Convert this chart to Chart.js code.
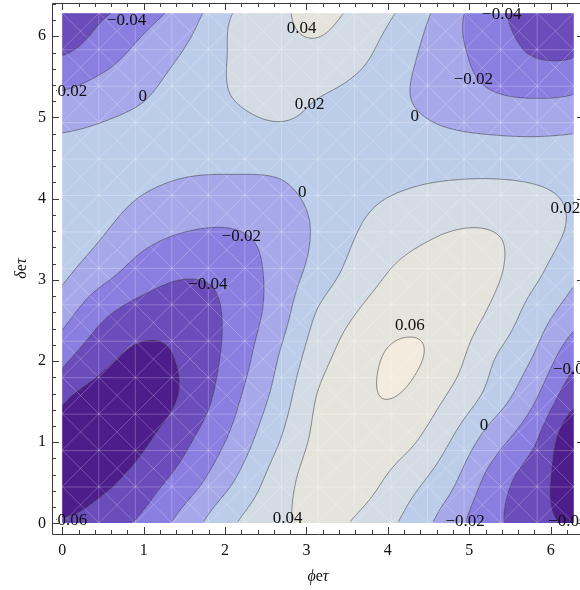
<!DOCTYPE html>
<html>
<head>
<meta charset="utf-8">
<title>Contour plot</title>
<script src="https://cdn.jsdelivr.net/npm/chart.js@4.4.1/dist/chart.umd.min.js"></script>
<style>
  html, body { margin: 0; padding: 0; background: #fff; overflow: hidden; }
  #wrap { position: relative; width: 600px; height: 590px; }
</style>
</head>
<body>
<div id="wrap"><canvas id="chart" width="600" height="590"></canvas></div>
<script>
"use strict";

/* ─── Data ─────────────────────────────────────────────────── */

/* Grid nodes along both axes (multiples of pi/6) */
const PHI_GRID = [0, 0.524, 1.047, 1.571, 2.094, 2.618, 3.142, 3.665, 4.189, 4.712, 5.236, 5.760, 6.283];
const DELTA_GRID = [0, 0.524, 1.047, 1.571, 2.094, 2.618, 3.142, 3.665, 4.189, 4.712, 5.236, 5.760, 6.283];

/* Values, one row per delta node (bottom to top) */
const ROW_0  = [-0.058, -0.049, -0.033, -0.008,  0.018,  0.034,  0.046,  0.036,  0.017, -0.008, -0.033, -0.050, -0.062];
const ROW_1  = [-0.068, -0.064, -0.048, -0.028, -0.001,  0.028,  0.049,  0.048,  0.030,  0.008, -0.025, -0.050, -0.068];
const ROW_2  = [-0.074, -0.077, -0.062, -0.042, -0.016,  0.016,  0.045,  0.055,  0.047,  0.024, -0.007, -0.034, -0.074];
const ROW_3  = [-0.055, -0.068, -0.070, -0.054, -0.026,  0.005,  0.041,  0.057,  0.059,  0.040,  0.015, -0.014, -0.053];
const ROW_4  = [-0.032, -0.054, -0.064, -0.054, -0.033, -0.003,  0.031,  0.052,  0.063,  0.052,  0.025,  0.002, -0.032];
const ROW_5  = [-0.011, -0.036, -0.048, -0.050, -0.035, -0.012,  0.021,  0.041,  0.052,  0.054,  0.039,  0.014, -0.010];
const ROW_6  = [ 0.006, -0.012, -0.029, -0.036, -0.032, -0.014,  0.007,  0.029,  0.043,  0.047,  0.045,  0.027,  0.006];
const ROW_7  = [ 0.015,  0.002, -0.011, -0.018, -0.019, -0.012,  0.003,  0.020,  0.031,  0.038,  0.039,  0.032,  0.017];
const ROW_8  = [ 0.014,  0.008,  0.002, -0.002, -0.003, -0.002,  0.007,  0.014,  0.018,  0.021,  0.022,  0.020,  0.015];
const ROW_9  = [ 0.003,  0.005,  0.007,  0.008,  0.010,  0.014,  0.015,  0.013,  0.009,  0.005,  0.003,  0.002,  0.003];
const ROW_10 = [-0.016, -0.008,  0.000,  0.010,  0.020,  0.026,  0.020,  0.013,  0.002, -0.009, -0.017, -0.020, -0.018];
const ROW_11 = [-0.040, -0.027, -0.011,  0.004,  0.022,  0.033,  0.035,  0.024,  0.006, -0.012, -0.027, -0.040, -0.041];
const ROW_12 = [-0.056, -0.042, -0.027, -0.008,  0.020,  0.035,  0.045,  0.034,  0.016, -0.009, -0.033, -0.047, -0.056];

/* Contour levels and the fill colour of each band between them */
const CONTOUR_LEVELS = [-0.06, -0.04, -0.02, 0, 0.02, 0.04, 0.06];
const BAND_COLORS = [
  "#4d1d8c", "#6b4cbb", "#8b7ee1", "#a7a8ea",
  "#bccde9", "#d3dbe4", "#e5e4dc", "#f3ebdd",
];

/* Frame tick labels */
const TICK_VALUES = [0, 1, 2, 3, 4, 5, 6];

/* Contour labels placed on the lines */
const LABEL_TEXT = [
  "\u22120.04", "\u22120.02", "0", "0.04", "0.02", "\u22120.04", "\u22120.02", "0",
  "0", "\u22120.02", "\u22120.04", "0.02", "0.06", "0", "\u22120.04",
  "\u22120.02", "\u22120.06", "0.04", "\u22120.06",
];
const LABEL_PHI = [
  0.79, 0.065, 0.99, 2.94, 3.04, 5.40, 5.05, 4.33,
  2.95, 2.20, 1.79, 6.18, 4.27, 5.18, 6.27,
  4.95, 6.21, 2.77, 0.065,
];
const LABEL_DELTA = [
  6.20, 5.32, 5.26, 6.09, 5.16, 6.27, 5.47, 5.01,
  4.07, 3.53, 2.94, 3.88, 2.44, 1.21, 1.89,
  0.02, 0.02, 0.06, 0.03,
];

const GRID = [ROW_0, ROW_1, ROW_2, ROW_3, ROW_4, ROW_5, ROW_6,
  ROW_7, ROW_8, ROW_9, ROW_10, ROW_11, ROW_12];

const SERIF = '"Liberation Serif", "Times New Roman", serif';

/* ─── Interpolation helpers ───────────────────────────────── */

/* Catmull-Rom blend of four neighbouring samples */
function cubic(p0, p1, p2, p3, t) {
  return p1 + 0.5 * t * (p2 - p0 + t * (2 * p0 - 5 * p1 + 4 * p2 - p3 + t * (3 * (p1 - p2) + p3 - p0)));
}

/* Wraps a grid index (the data repeat every 2 pi) */
function wrap(i) {
  const n = PHI_GRID.length - 1;
  if (i < 0) return i + n;
  if (i > n) return i - n;
  return i;
}

/* Finds the grid interval and fraction for a value */
function locate(axis, v) {
  let i = 0;
  while (i < axis.length - 2 && v > axis[i + 1]) i++;
  return [i, (v - axis[i]) / (axis[i + 1] - axis[i])];
}

function valueAt(phi, delta) {
  const [i, tx] = locate(PHI_GRID, phi);
  const [j, ty] = locate(DELTA_GRID, delta);
  const col = [];
  for (let k = -1; k <= 2; k++) {
    const r = GRID[wrap(j + k)];
    col.push(cubic(r[wrap(i - 1)], r[i], r[i + 1], r[wrap(i + 2)], tx));
  }
  return cubic(col[0], col[1], col[2], col[3], ty);
}

function hexToRgb(h) {
  return [parseInt(h.slice(1, 3), 16), parseInt(h.slice(3, 5), 16), parseInt(h.slice(5, 7), 16)];
}

/* Writes a title whose Greek letters are italic and the "e" upright */
function drawTitle(ctx, parts, cx, cy, angle) {
  ctx.save();
  ctx.translate(cx, cy);
  ctx.rotate(angle);
  ctx.fillStyle = "#111";
  ctx.textBaseline = "middle";
  ctx.textAlign = "left";
  let total = 0;
  parts.forEach(function (p) {
    ctx.font = p[1] + " 16px " + SERIF;
    total += ctx.measureText(p[0]).width;
  });
  let x = -total / 2;
  parts.forEach(function (p) {
    ctx.font = p[1] + " 16px " + SERIF;
    ctx.fillText(p[0], x, 0);
    x += ctx.measureText(p[0]).width;
  });
  ctx.restore();
}

/* ─── Plugins ─────────────────────────────────────────────── */

/* Filled bands and contour lines, painted through the chart scales */
const contourPlugin = {
  id: "contour",
  beforeDatasetsDraw(chart) {
    const ctx = chart.ctx;
    const xs = chart.scales.x;
    const ys = chart.scales.y;
    const x0 = Math.round(xs.getPixelForValue(PHI_GRID[0]));
    const x1 = Math.round(xs.getPixelForValue(PHI_GRID[PHI_GRID.length - 1]));
    const y0 = Math.round(ys.getPixelForValue(DELTA_GRID[DELTA_GRID.length - 1]));
    const y1 = Math.round(ys.getPixelForValue(DELTA_GRID[0]));
    const w = x1 - x0;
    const h = y1 - y0;
    const rgb = BAND_COLORS.map(hexToRgb);
    const vals = new Float32Array(w * h);
    const img = ctx.createImageData(w, h);

    for (let j = 0; j < h; j++) {
      const d = ys.getValueForPixel(y0 + j + 0.5);
      for (let i = 0; i < w; i++) {
        const p = xs.getValueForPixel(x0 + i + 0.5);
        const v = valueAt(p, d);
        vals[j * w + i] = v;
        let band = 0;
        while (band < CONTOUR_LEVELS.length && v >= CONTOUR_LEVELS[band]) band++;
        const c = rgb[band];
        const o = (j * w + i) * 4;
        img.data[o] = c[0];
        img.data[o + 1] = c[1];
        img.data[o + 2] = c[2];
        img.data[o + 3] = 255;
      }
    }
    ctx.putImageData(img, x0, y0);

    /* Faint white mesh of the sampling triangles */
    const step = PHI_GRID[PHI_GRID.length - 1] / 14;
    ctx.save();
    ctx.beginPath();
    ctx.rect(x0, y0, w, h);
    ctx.clip();
    ctx.beginPath();
    for (let k = 0; k <= 14; k++) {
      const px = xs.getPixelForValue(k * step);
      const py = ys.getPixelForValue(k * step);
      ctx.moveTo(px, y0); ctx.lineTo(px, y1);
      ctx.moveTo(x0, py); ctx.lineTo(x1, py);
    }
    for (let k = -14; k <= 14; k++) {
      ctx.moveTo(xs.getPixelForValue(k * step), y1);
      ctx.lineTo(xs.getPixelForValue((k + 14) * step), y0);
      ctx.moveTo(xs.getPixelForValue(k * step), y0);
      ctx.lineTo(xs.getPixelForValue((k + 14) * step), y1);
    }
    ctx.strokeStyle = "rgba(255,255,255,0.24)";
    ctx.lineWidth = 1;
    ctx.stroke();
    ctx.restore();

    /* Marching squares for the lines */
    const s = 2;
    ctx.save();
    ctx.beginPath();
    CONTOUR_LEVELS.forEach(function (lev) {
      for (let j = 0; j + s < h; j += s) {
        for (let i = 0; i + s < w; i += s) {
          const a = vals[j * w + i] - lev;
          const b = vals[j * w + i + s] - lev;
          const c = vals[(j + s) * w + i + s] - lev;
          const e = vals[(j + s) * w + i] - lev;
          const pts = [];
          if ((a < 0) !== (b < 0)) pts.push([i + s * a / (a - b), j]);
          if ((b < 0) !== (c < 0)) pts.push([i + s, j + s * b / (b - c)]);
          if ((e < 0) !== (c < 0)) pts.push([i + s * e / (e - c), j + s]);
          if ((a < 0) !== (e < 0)) pts.push([i, j + s * a / (a - e)]);
          for (let k = 0; k + 1 < pts.length; k += 2) {
            ctx.moveTo(x0 + pts[k][0] + 0.5, y0 + pts[k][1] + 0.5);
            ctx.lineTo(x0 + pts[k + 1][0] + 0.5, y0 + pts[k + 1][1] + 0.5);
          }
        }
      }
    });
    ctx.strokeStyle = "rgba(70,70,75,0.68)";
    ctx.lineWidth = 0.9;
    ctx.stroke();
    ctx.restore();
  },

  /* Contour labels, the framed ticks and the axis titles */
  afterDatasetsDraw(chart) {
    const ctx = chart.ctx;
    const area = chart.chartArea;
    const meta = chart.getDatasetMeta(0);
    ctx.save();
    ctx.beginPath();
    ctx.rect(area.left + 4, area.top + 4, area.right - area.left - 8, area.bottom - area.top - 8);
    ctx.clip();
    ctx.font = "17px " + SERIF;
    ctx.fillStyle = "#111";
    ctx.textAlign = "center";
    ctx.textBaseline = "middle";
    meta.data.forEach(function (pt, i) {
      ctx.fillText(LABEL_TEXT[i], pt.x, pt.y);
    });
    ctx.restore();

    const xs = chart.scales.x;
    const ys = chart.scales.y;
    ctx.save();
    ctx.strokeStyle = "#3a3a3a";
    ctx.lineWidth = 1;
    ctx.beginPath();
    ctx.rect(Math.round(area.left) + 0.5, Math.round(area.top) + 0.5,
      Math.round(area.right - area.left), Math.round(area.bottom - area.top));
    for (let k = 0; k <= 64; k += 2) {
      const len = k % 10 === 0 ? 7 : 4;
      const px = Math.round(xs.getPixelForValue(k / 10)) + 0.5;
      const py = Math.round(ys.getPixelForValue(k / 10)) + 0.5;
      ctx.moveTo(px, area.bottom); ctx.lineTo(px, area.bottom - len);
      ctx.moveTo(px, area.top); ctx.lineTo(px, area.top + len);
      ctx.moveTo(area.left, py); ctx.lineTo(area.left + len, py);
      ctx.moveTo(area.right, py); ctx.lineTo(area.right - len, py);
    }
    ctx.stroke();
    ctx.restore();

    drawTitle(ctx, [["\u03d5", "italic"], ["e", "normal"], ["\u03c4", "italic"]],
      (area.left + area.right) / 2, 577, 0);
    drawTitle(ctx, [["\u03b4", "italic"], ["e", "normal"], ["\u03c4", "italic"]],
      22, (area.top + area.bottom) / 2, -Math.PI / 2);
  },
};

/* ─── Chart ───────────────────────────────────────────────── */

function forceTicks(scale) {
  scale.ticks = TICK_VALUES.map(function (v) { return { value: v }; });
}

const labelPoints = LABEL_PHI.map(function (p, i) {
  return { x: p, y: LABEL_DELTA[i] };
});

new Chart(document.getElementById("chart"), {
  type: "scatter",
  data: {
    datasets: [{ data: labelPoints, pointRadius: 0, pointHoverRadius: 0 }],
  },
  options: {
    responsive: false,
    devicePixelRatio: 1,
    animation: false,
    events: [],
    layout: { padding: { top: 3, right: 16, bottom: 0, left: 0 } },
    plugins: { legend: { display: false }, tooltip: { enabled: false } },
    scales: {
      x: {
        type: "linear",
        min: -0.126,
        max: 6.41,
        grid: { display: false, drawTicks: false },
        border: { display: false },
        afterBuildTicks: forceTicks,
        afterFit: function (s) {
          s.height = 56;
          s.paddingLeft = 0;
          s.paddingRight = 0;
        },
        ticks: { padding: 7, color: "#111", font: { family: SERIF, size: 16 } },
      },
      y: {
        type: "linear",
        min: -0.13,
        max: 6.41,
        grid: { display: false, drawTicks: false },
        border: { display: false },
        afterBuildTicks: forceTicks,
        afterFit: function (s) {
          s.width = 52;
          s.paddingTop = 0;
          s.paddingBottom = 0;
        },
        ticks: { padding: 6, color: "#111", font: { family: SERIF, size: 16 } },
      },
    },
  },
  plugins: [contourPlugin],
});
</script>
</body>
</html>
